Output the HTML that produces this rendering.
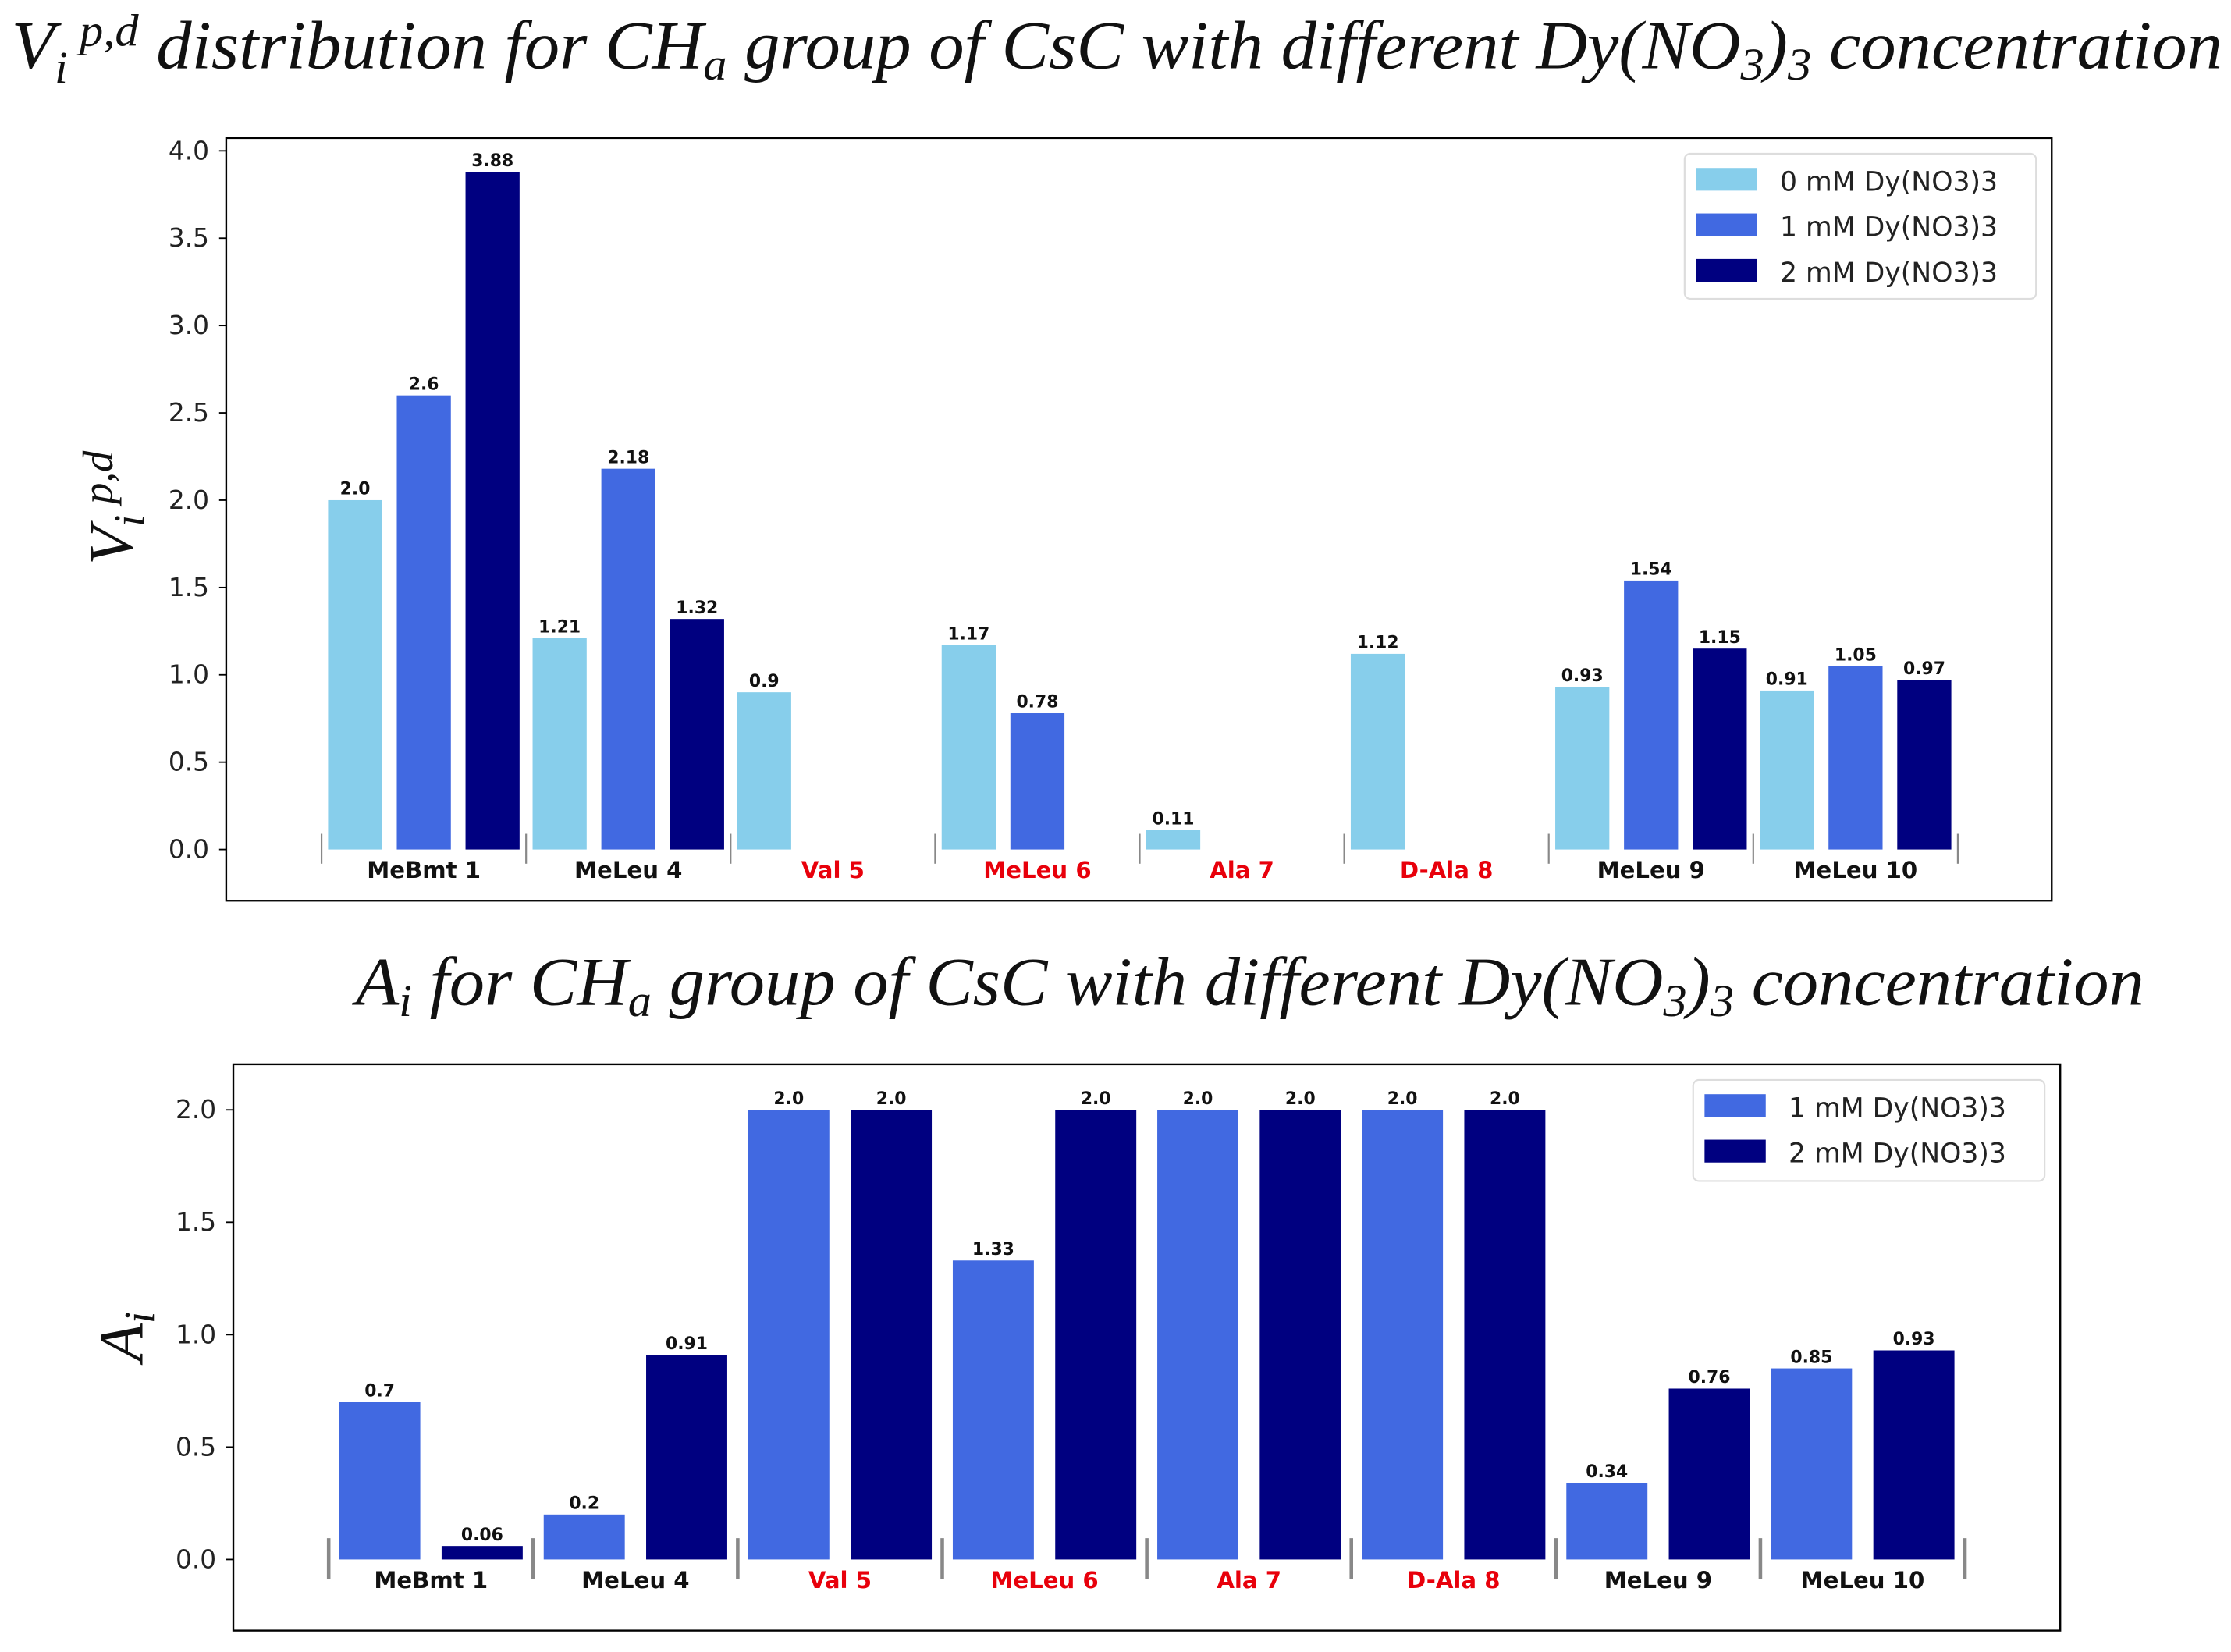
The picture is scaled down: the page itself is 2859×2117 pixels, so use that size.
<!DOCTYPE html>
<html><head><meta charset="utf-8"><style>
html,body{margin:0;padding:0;background:#fff}
svg{display:block}
.t{font-family:"Liberation Serif",serif;font-style:italic}
.s{font-family:"DejaVu Sans","Liberation Sans",sans-serif}
</style></head><body>
<svg id="fig" width="2859" height="2117" viewBox="0 0 1568 1161" xmlns="http://www.w3.org/2000/svg">
<rect width="1568" height="1161" fill="#fff"/>
<text class="t" x="8" y="48" font-size="48" fill="#111" textLength="1554" lengthAdjust="spacingAndGlyphs">V<tspan font-size="32" dy="10">i</tspan><tspan font-size="32" dy="-26"> p,d</tspan><tspan dy="16">  distribution  for CH</tspan><tspan font-size="32" dy="8">a</tspan><tspan dy="-8"> group of CsC with different Dy(NO</tspan><tspan font-size="32" dy="8">3</tspan><tspan dy="-8">)</tspan><tspan font-size="32" dy="8">3</tspan><tspan dy="-8">  concentration</tspan></text>
<text class="t" x="250" y="706" font-size="48" fill="#111" textLength="1257" lengthAdjust="spacingAndGlyphs">A<tspan font-size="32" dy="8">i</tspan><tspan dy="-8">  for CH</tspan><tspan font-size="32" dy="8">a</tspan><tspan dy="-8"> group of CsC with different Dy(NO</tspan><tspan font-size="32" dy="8">3</tspan><tspan dy="-8">)</tspan><tspan font-size="32" dy="8">3</tspan><tspan dy="-8">  concentration</tspan></text>
<text class="t" transform="translate(93,397) rotate(-90)" font-size="44" fill="#111">V<tspan font-size="30" dy="8">i</tspan><tspan font-size="30" dy="-22"> p,d</tspan></text>
<text class="t" transform="translate(100,957) rotate(-90)" font-size="44" fill="#111">A<tspan font-size="30" dy="8">i</tspan></text>
<g id="top"></g><g id="bot"></g>
</svg>
<script>
const categories = ["MeBmt 1","MeLeu 4","Val 5","MeLeu 6","Ala 7","D-Ala 8","MeLeu 9","MeLeu 10"];
const redCats = [false,false,true,true,true,true,false,false];
const top0 = [2.0,1.21,0.9,1.17,0.11,1.12,0.93,0.91];
const top1 = [2.6,2.18,null,0.78,null,null,1.54,1.05];
const top2 = [3.88,1.32,null,null,null,null,1.15,0.97];
const topTicks = ["0.0","0.5","1.0","1.5","2.0","2.5","3.0","3.5","4.0"];
const bot1 = [0.7,0.2,2.0,1.33,2.0,2.0,0.34,0.85];
const bot2 = [0.06,0.91,2.0,2.0,2.0,2.0,0.76,0.93];
const botTicks = ["0.0","0.5","1.0","1.5","2.0"];
const legTop = ["0 mM Dy(NO3)3","1 mM Dy(NO3)3","2 mM Dy(NO3)3"];
const legBot = ["1 mM Dy(NO3)3","2 mM Dy(NO3)3"];
const NS="http://www.w3.org/2000/svg";
function mk(p,tag,a,txt){const e=document.createElementNS(NS,tag);for(const k in a)e.setAttribute(k,a[k]);if(txt!=null)e.textContent=txt;p.appendChild(e);return e;}
function fmt(v){return String(v).includes('.')?String(v):v.toFixed(1);}
function chart(g,cfg){
  const {L,T,R,B,y0,ppu,x0,gw,series,colors,bw,step,ticks,tstep,leg,legBox,sepTop,sepBot,sepW}=cfg;
  const ys=v=>y0-v*ppu;
  const fr=mk(g,'rect',{x:L,y:T,width:R-L,height:B-T,fill:'none',stroke:'#000','stroke-width':1.3});
  
  ticks.forEach((t,i)=>{const y=ys(i*tstep);
    const l=mk(g,'line',{x1:L-5,x2:L,y1:y,y2:y,stroke:'#000','stroke-width':1});
    
    const tx=mk(g,'text',{x:L-12,y:y+6,'text-anchor':'end','font-size':18,class:'s',fill:'#222'},t);
    });
  for(let i=0;i<=categories.length;i++){const x=x0+i*gw;
    const l=mk(g,'line',{x1:x,x2:x,y1:sepTop,y2:sepBot,stroke:'#888','stroke-width':sepW});
    }
  const n=series.length;
  categories.forEach((c,i)=>{const cx=x0+(i+0.5)*gw;
    const tx=mk(g,'text',{x:cx,y:cfg.labY,'text-anchor':'middle','font-size':16,'font-weight':'bold',class:'s',fill:redCats[i]?'#e8000b':'#111'},c);
    
    series.forEach((s,j)=>{const v=s[i];if(v==null)return;
      const bx=cx+(j-(n-1)/2)*step-bw/2;
      const r=mk(g,'rect',{x:bx,y:ys(v),width:bw,height:v*ppu,fill:colors[j]});
      
      const vt=mk(g,'text',{x:bx+bw/2,y:ys(v)-4,'text-anchor':'middle','font-size':12,'font-weight':'bold',class:'s',fill:'#111'},fmt(v));
      });});
  const [lx,ly,lw,lh]=legBox;
  const lb=mk(g,'rect',{x:lx,y:ly,width:lw,height:lh,rx:4,fill:'#fff',stroke:'#ddd','stroke-width':1.2});
  
  leg.forEach((t,j)=>{const yy=ly+19+j*32;
    const sw=mk(g,'rect',{x:lx+8,y:yy-9,width:43,height:16,fill:colors[j]});
    
    const tt=mk(g,'text',{x:lx+67,y:yy+7,'font-size':19,class:'s',fill:'#222'},t);
    });
}
chart(document.getElementById('top'),{L:159,T:97,R:1442,B:633,y0:597,ppu:122.75,x0:226,gw:143.75,
  series:[top0,top1,top2],colors:['#87CEEB','#4169E1','#000080'],bw:38,step:48.3,ticks:topTicks,tstep:0.5,
  leg:legTop,legBox:[1184,108,247,102],sepTop:586,sepBot:607,sepW:1.2,labY:617});
chart(document.getElementById('bot'),{L:164,T:748,R:1448,B:1146,y0:1096,ppu:158,x0:231,gw:143.75,
  series:[bot1,bot2],colors:['#4169E1','#000080'],bw:57,step:72,ticks:botTicks,tstep:0.5,
  leg:legBot,legBox:[1190,759,247,71],sepTop:1081,sepBot:1110,sepW:2.5,labY:1116});
</script>
</body></html>
